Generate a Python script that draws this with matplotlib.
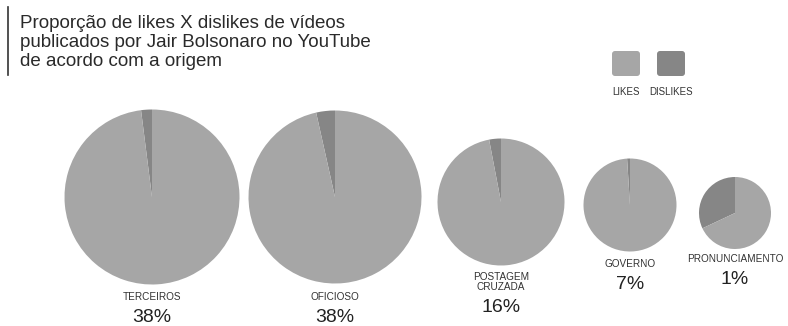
import matplotlib
matplotlib.use('Agg')
import matplotlib.pyplot as plt
from matplotlib.patches import FancyBboxPatch

# data
origens = ["TERCEIROS", "OFICIOSO", "POSTAGEM\nCRUZADA", "GOVERNO", "PRONUNCIAMENTO"]
share_pct = [38, 38, 16, 7, 1]
dislike_pct = [2, 3.5, 3, 1, 32]
like_pct = [100 - d for d in dislike_pct]
title_lines = ["Proporção de likes X dislikes de vídeos",
               "publicados por Jair Bolsonaro no YouTube",
               "de acordo com a origem"]

LIKE = "#a6a6a6"
DISLIKE = "#868686"
W, H = 788, 326

# layout (pixels, top-left origin)
centers = [(152, 197), (335, 197), (501, 202), (630, 205), (735, 213)]
radii = [87.5, 86.5, 63.5, 46.5, 36]
label_base = [300, 300, 280, 267, 262]

plt.rcParams['font.family'] = ['Liberation Sans', 'DejaVu Sans']

fig = plt.figure(figsize=(W / 100, H / 100), dpi=100)
ax = fig.add_axes([0, 0, 1, 1])

def Y(py):
    return H - py

for i, name in enumerate(origens):
    cx, cy = centers[i]
    ax.pie([dislike_pct[i], like_pct[i]], colors=[DISLIKE, LIKE], startangle=90,
           counterclock=True, center=(cx, Y(cy)), radius=radii[i], frame=True,
           wedgeprops=dict(linewidth=0))
    lines = name.split("\n")
    for j, ln in enumerate(lines):
        ax.text(cx, Y(label_base[i] + 10.5 * j), ln, ha='center', va='baseline',
                fontsize=7.2, color="#333333")
    last = label_base[i] + 10.5 * (len(lines) - 1)
    ax.text(cx, Y(last + 22), f"{share_pct[i]}%", ha='center', va='baseline',
            fontsize=14, color="#222222")

ax.set_xlim(0, W)
ax.set_ylim(0, H)
ax.set_aspect('equal')
ax.axis('off')

# title
ax.plot([8, 8], [Y(7), Y(75)], color="#333333", lw=1.2)
for j, ln in enumerate(title_lines):
    ax.text(20, Y(28 + 19 * j), ln, ha='left', va='baseline', fontsize=13.5,
            color="#2a2a2a")

# legend
for x0, col, lab in [(612, LIKE, "LIKES"), (657, DISLIKE, "DISLIKES")]:
    ax.add_patch(FancyBboxPatch((x0, Y(76)), 28, 25, boxstyle="round,pad=0,rounding_size=3",
                                facecolor=col, edgecolor='none'))
    ax.text(x0 + 14, Y(95), lab, ha='center', va='baseline', fontsize=7, color="#333333")

fig.savefig("out.png", dpi=100, facecolor='white')
